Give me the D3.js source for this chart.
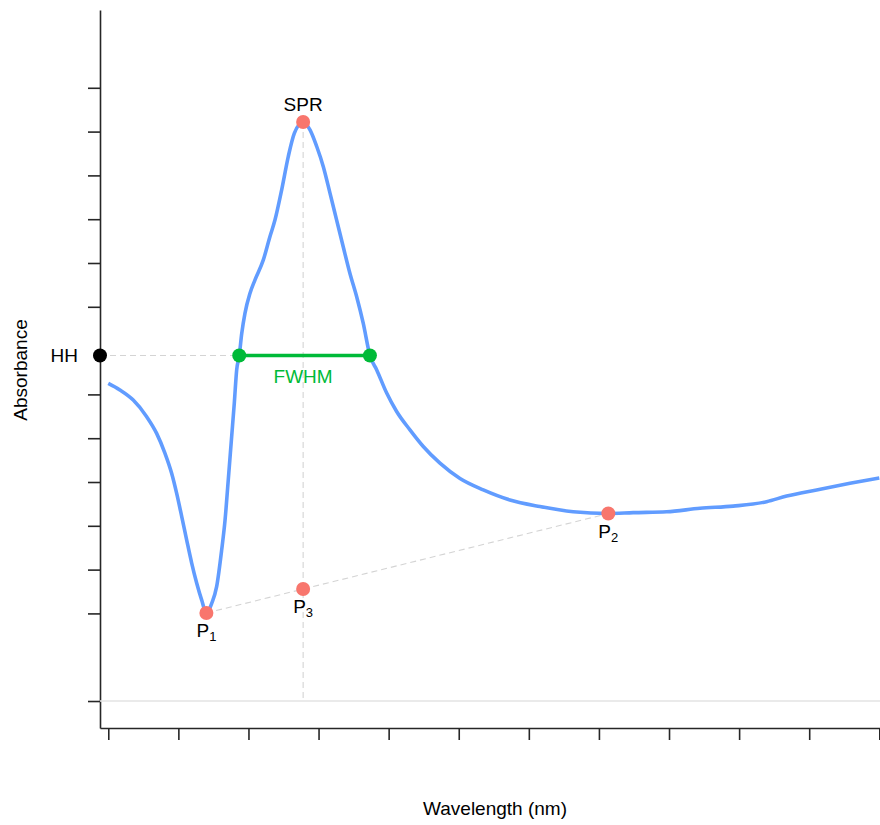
<!DOCTYPE html>
<html>
<head>
<meta charset="utf-8">
<script src="https://cdn.jsdelivr.net/npm/d3@7"></script>
<style>
    body { margin: 0; background: #fff; }
    text { font-family: "Liberation Sans", Arial, sans-serif; }
</style>
</head>
<body>
<script>
// spectre (nm / absorbance)
const wavelength = [300.0, 308.3, 317.8, 327.4, 334.5, 340.4, 345.2, 348.8, 352.4, 355.9,
    359.5, 363.1, 366.6, 370.0, 373.8, 377.3, 380.9, 383.3, 385.6, 388.0,
    389.9, 391.6, 393.4, 395.2, 397.5, 401.1, 404.6, 410.6, 415.3, 418.9,
    423.7, 428.4, 432.7, 439.0, 443.9, 448.7, 453.4, 458.2, 462.9, 467.6,
    472.4, 477.2, 481.9, 486.7, 491.5, 498.6, 505.7, 515.2, 524.7, 536.6,
    550.9, 567.5, 586.5, 607.9, 631.7, 656.7, 674.5, 698.3, 722.1, 745.8,
    769.6, 783.9, 805.3, 829.1, 850.0];
const absorbance = [0.725, 0.710, 0.687, 0.649, 0.611, 0.566, 0.520, 0.474, 0.421, 0.368,
    0.315, 0.269, 0.231, 0.201, 0.223, 0.261, 0.345, 0.413, 0.505, 0.603,
    0.680, 0.756, 0.788, 0.839, 0.885, 0.931, 0.961, 1.007, 1.060, 1.098,
    1.167, 1.243, 1.296, 1.322, 1.304, 1.266, 1.220, 1.159, 1.098, 1.037,
    0.976, 0.923, 0.862, 0.788, 0.756, 0.703, 0.661, 0.619, 0.581, 0.543,
    0.508, 0.482, 0.459, 0.444, 0.432, 0.428, 0.430, 0.432, 0.440, 0.445,
    0.455, 0.468, 0.482, 0.497, 0.509];

const xTicks = [300, 350, 400, 450, 500, 550, 600, 650, 700, 750, 800, 850];
const yTicks = [0, 0.2, 0.3, 0.4, 0.5, 0.6, 0.7, 0.9, 1.0, 1.1, 1.2, 1.3, 1.4];

class Spectrum {
    init() {
        this._data = wavelength.map((w, i) => ({x: w, y: absorbance[i]}));
        this.drawGraph();
    }

    /**
     * Points caractéristiques : SPR, P1, P2, P3, HH et FWHM.
     */
    findPoints() {
        const d = this._data;
        const iSpr = d3.maxIndex(d, p => p.y);
        const left = d.slice(0, iSpr);
        const right = d.slice(iSpr);
        const spr = d[iSpr];
        const p1 = left[d3.minIndex(left, p => p.y)];
        const p2 = right[d3.minIndex(right, p => p.y)];
        const t = (spr.x - p1.x) / (p2.x - p1.x);
        const p3 = {x: spr.x, y: p1.y + t * (p2.y - p1.y)};
        const hh = p3.y + (spr.y - p3.y) / 2;

        // intersections de la courbe avec HH
        const cross = [];
        for (let i = 1; i < d.length; i++) {
            const a = d[i - 1], b = d[i];
            if ((a.y - hh) * (b.y - hh) <= 0 && a.y !== b.y && a.x > p1.x && b.x < p2.x) {
                const k = (hh - a.y) / (b.y - a.y);
                cross.push({x: a.x + k * (b.x - a.x), y: hh});
            }
        }
        return {spr, p1, p2, p3, hh, fw: [cross[0], cross[cross.length - 1]]};
    }

    drawGraph() {
        const width = 880, height = 825;
        const pts = this.findPoints();

        const svg = d3.select('body')
            .append('svg')
            .attr('width', width)
            .attr('height', height);

        const x = d3.scaleLinear().domain([294.1, 850.5]).range([100, 880]);
        const y = d3.scaleLinear().domain([-0.0616, 1.5776]).range([728, 10]);

        // axes
        const yAxis = svg.append('g')
            .attr('transform', 'translate(100,0)')
            .call(d3.axisLeft(y).tickValues(yTicks).tickSize(12).tickSizeOuter(0).tickFormat(''));
        const xAxis = svg.append('g')
            .attr('transform', 'translate(0,728)')
            .call(d3.axisBottom(x).tickValues(xTicks).tickSize(12).tickSizeOuter(0).tickFormat(''));
        [xAxis, yAxis].forEach(a => {
            a.selectAll('path, line').attr('stroke', '#262626').attr('stroke-width', 1.6);
        });

        // ligne zéro
        svg.append('line')
            .attr('x1', 100).attr('x2', 880)
            .attr('y1', y(0)).attr('y2', y(0))
            .attr('stroke', '#e3e3e3').attr('stroke-width', 1.5);

        const dashed = (x1, y1, x2, y2) => svg.append('line')
            .attr('x1', x1).attr('y1', y1).attr('x2', x2).attr('y2', y2)
            .attr('stroke', '#d4d4d4').attr('stroke-width', 1.1)
            .attr('stroke-dasharray', '6,4');

        dashed(x(pts.spr.x), y(pts.spr.y), x(pts.spr.x), y(0));
        dashed(100, y(pts.hh), x(pts.fw[0].x), y(pts.hh));
        dashed(x(pts.p1.x), y(pts.p1.y), x(pts.p2.x), y(pts.p2.y));

        // spectre
        const line = d3.line()
            .x(d => x(d.x))
            .y(d => y(d.y))
            .curve(d3.curveMonotoneX);
        svg.append('path')
            .datum(this._data)
            .attr('fill', 'none')
            .attr('stroke', '#619CFF')
            .attr('stroke-width', 3.6)
            .attr('stroke-linejoin', 'round')
            .attr('d', line);

        // FWHM
        svg.append('line')
            .attr('x1', x(pts.fw[0].x)).attr('x2', x(pts.fw[1].x))
            .attr('y1', y(pts.hh)).attr('y2', y(pts.hh))
            .attr('stroke', '#00BA38').attr('stroke-width', 3.6);

        const dot = (p, color) => svg.append('circle')
            .attr('cx', x(p.x)).attr('cy', y(p.y))
            .attr('r', 7).attr('fill', color);

        pts.fw.forEach(p => dot(p, '#00BA38'));
        [pts.spr, pts.p1, pts.p2, pts.p3].forEach(p => dot(p, '#F8766D'));
        svg.append('circle')
            .attr('cx', 100).attr('cy', y(pts.hh))
            .attr('r', 7).attr('fill', '#000');

        // étiquettes
        const fs = 19;
        svg.append('text')
            .attr('x', x(pts.spr.x)).attr('y', y(pts.spr.y) - 11)
            .attr('text-anchor', 'middle')
            .style('font-size', fs + 'px')
            .text('SPR');

        svg.append('text')
            .attr('x', x(pts.spr.x)).attr('y', y(pts.hh) + 27)
            .attr('text-anchor', 'middle')
            .attr('fill', '#00BA38')
            .style('font-size', fs + 'px')
            .text('FWHM');

        [[pts.p1, '1'], [pts.p2, '2'], [pts.p3, '3']].forEach(([p, sub]) => {
            const t = svg.append('text')
                .attr('x', x(p.x)).attr('y', y(p.y) + 24)
                .attr('text-anchor', 'middle')
                .style('font-size', fs + 'px');
            t.append('tspan').text('P');
            t.append('tspan').attr('dy', 4).style('font-size', '13px').text(sub);
        });

        svg.append('text')
            .attr('x', 78).attr('y', y(pts.hh) + 6.5)
            .attr('text-anchor', 'end')
            .style('font-size', fs + 'px')
            .text('HH');

        // titres des axes
        svg.append('text')
            .attr('x', 495).attr('y', 815)
            .attr('text-anchor', 'middle')
            .style('font-size', fs + 'px')
            .text('Wavelength (nm)');

        svg.append('text')
            .attr('transform', 'translate(27,370) rotate(-90)')
            .attr('text-anchor', 'middle')
            .style('font-size', fs + 'px')
            .text('Absorbance');
    }
}

new Spectrum().init();
</script>
</body>
</html>
